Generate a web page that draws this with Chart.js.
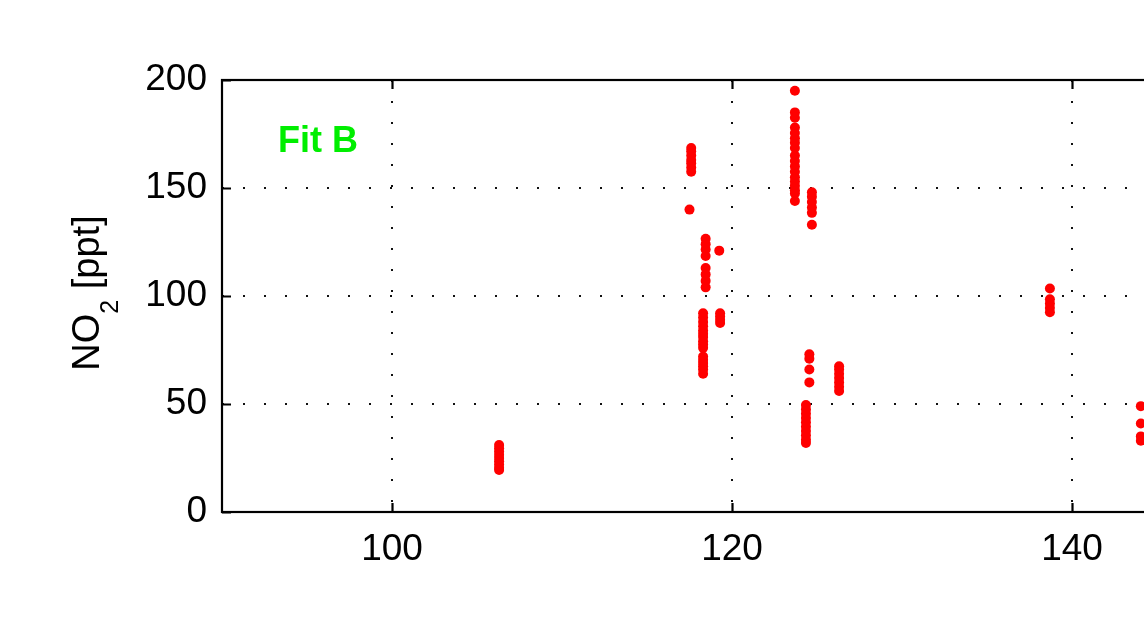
<!DOCTYPE html>
<html lang="en">

<head>
    <meta charset="UTF-8">
    <title>NO2 Fit B</title>
    <script src="https://cdn.jsdelivr.net/npm/chart.js"></script>
    <style>
        body { margin: 0; overflow: hidden; background: #fff; }
    </style>
</head>

<body>
    <!-- canvas is wider than the window, the right part of the plot is cut off -->
    <div style="width: 1300px; height: 618px;">
        <canvas id="myChart" width="1300" height="618"></canvas>
    </div>

    <script>
        // one column of points per x position
        const colX = [106.3, 117.6, 117.5, 118.45, 118.3, 119.25, 119.3, 123.7, 124.7, 124.55, 124.35, 126.3, 138.7, 144.05];
        const colY = [
            [31, 29.5, 28, 26.5, 25, 23.5, 22, 20.5, 19.5],
            [168.5, 167, 165, 163, 161.5, 159.5, 157.5],
            [140],
            [126.5, 124, 121.5, 118.5, 113, 110, 107, 104],
            [92, 90, 88, 86, 84, 82.5, 81, 79, 77.5, 76, 72, 70.5, 69, 67.5, 66, 64],
            [121],
            [92, 90.5, 89, 87.5],
            [195, 185, 182.5, 178, 175.5, 173, 171, 168.5, 165, 162.5, 160, 157.5, 155, 153, 151, 149, 147.5, 144],
            [148, 146, 143.5, 141, 138.5, 133],
            [73, 71, 66, 60],
            [49.5, 47.5, 45.5, 43.5, 41.5, 39.5, 37.5, 35.5, 33.5, 32],
            [67.5, 66, 64, 62, 60, 58, 56],
            [103.5, 98.5, 96.5, 94.5, 92.5],
            [49, 41, 35, 33]
        ];
        const xTicks = [100, 120, 140];
        const yTicks = [0, 50, 100, 150, 200];
        const xMin = 90, xMax = 150;
        const yMin = 0, yMax = 200;

        const points = [];
        colX.forEach(function (x, i) {
            colY[i].forEach(function (y) { points.push({ x: x, y: y }); });
        });

        const FONT = '"Liberation Sans", Arial, sans-serif';

        // frame, inward ticks, the "Fit B" label and the y title with subscript
        const decor = {
            id: 'decor',
            afterDraw(chart) {
                const c = chart.ctx, a = chart.chartArea;
                const sx = chart.scales.x, sy = chart.scales.y;
                c.save();
                c.strokeStyle = '#000';
                c.lineWidth = 2.2;
                c.strokeRect(a.left, a.top, a.right - a.left, a.bottom - a.top);
                c.beginPath();
                xTicks.forEach(function (v) {
                    const px = Math.round(sx.getPixelForValue(v)) + 0.5;
                    c.moveTo(px, a.bottom); c.lineTo(px, a.bottom - 9);
                    c.moveTo(px, a.top); c.lineTo(px, a.top + 9);
                });
                yTicks.forEach(function (v) {
                    const py = Math.round(sy.getPixelForValue(v)) + 0.5;
                    c.moveTo(a.left, py); c.lineTo(a.left + 9, py);
                    c.moveTo(a.right, py); c.lineTo(a.right - 9, py);
                });
                c.stroke();

                c.fillStyle = '#00ee00';
                c.font = 'bold 36px ' + FONT;
                c.textBaseline = 'alphabetic';
                c.fillText('Fit B', 278, 152);

                // NO2 [ppt], rotated
                c.translate(99, 293);
                c.rotate(-Math.PI / 2);
                c.fillStyle = '#000';
                c.font = '38px ' + FONT;
                const w1 = c.measureText('NO').width;
                c.font = '25px ' + FONT;
                const w2 = c.measureText('2').width;
                c.font = '38px ' + FONT;
                const w3 = c.measureText(' [ppt]').width;
                let x0 = -(w1 + w2 + w3) / 2;
                c.fillText('NO', x0, 0);
                c.font = '25px ' + FONT;
                c.fillText('2', x0 + w1, 19);
                c.font = '38px ' + FONT;
                c.fillText(' [ppt]', x0 + w1 + w2, 0);
                c.restore();
            }
        };

        function hideEdge(lo, hi) {
            return function (ctx) {
                const v = ctx.tick ? ctx.tick.value : null;
                return (v === lo || v === hi) ? 'rgba(0,0,0,0)' : '#111';
            };
        }

        const ctx = document.querySelector('#myChart');

        var myChart = new Chart(ctx, {
            type: 'scatter',
            data: {
                datasets: [{
                    data: points,
                    backgroundColor: '#ff0000',
                    borderWidth: 0,
                    pointRadius: 5,
                    pointHoverRadius: 5
                }]
            },
            options: {
                responsive: false,
                animation: false,
                devicePixelRatio: 1,
                layout: { padding: { top: 80, right: 58, left: 0, bottom: 0 } },
                plugins: { legend: { display: false }, tooltip: { enabled: false } },
                scales: {
                    x: {
                        type: 'linear',
                        min: xMin, max: xMax,
                        afterBuildTicks: function (s) { s.ticks = xTicks.map(function (v) { return { value: v }; }); },
                        afterFit: function (s) { s.height = 106; },
                        grid: { color: hideEdge(xMin, xMax), lineWidth: 2, drawTicks: false },
                        border: { display: false, dash: [2, 19] },
                        ticks: { color: '#000', font: { family: FONT, size: 37 }, padding: 16, maxRotation: 0 }
                    },
                    y: {
                        type: 'linear',
                        min: yMin, max: yMax,
                        afterBuildTicks: function (s) { s.ticks = yTicks.map(function (v) { return { value: v }; }); },
                        afterFit: function (s) { s.width = 222; },
                        grid: { color: hideEdge(yMin, yMax), lineWidth: 2, drawTicks: false },
                        border: { display: false, dash: [2, 19] },
                        ticks: { color: '#000', font: { family: FONT, size: 37 }, padding: 15 }
                    }
                }
            },
            plugins: [decor]
        });
    </script>

</body>

</html>
